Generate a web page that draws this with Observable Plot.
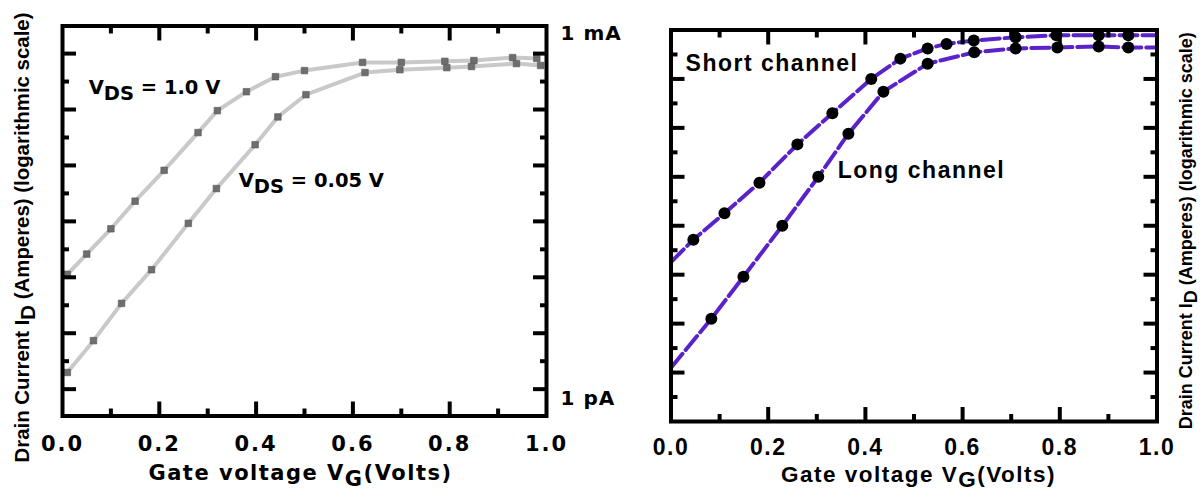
<!DOCTYPE html>
<html><head><meta charset="utf-8">
<script src="https://cdn.jsdelivr.net/npm/d3@7"></script>
<script src="https://cdn.jsdelivr.net/npm/@observablehq/plot@0.6"></script>
<style>
body{margin:0;background:#fff;}
#wrap{position:relative;width:1202px;height:492px;overflow:hidden;background:#fff;}
#p1,#p2{position:absolute;top:0;width:601px;height:492px;}
#p1{left:0;} #p2{left:601px;}
svg{overflow:visible;}
</style></head><body>
<div id="wrap"><div id="p1"></div><div id="p2"></div></div>
<script>
// ---------- Left panel data (V_G in volts, I_D in amperes) ----------
const vdsHighVg = [0.01, 0.05, 0.10, 0.15, 0.21, 0.28, 0.32, 0.38, 0.44, 0.50, 0.62, 0.70, 0.79, 0.85, 0.93, 0.98];
const vdsHighId = [1.2e-9, 4.2e-9, 2.0e-8, 1.1e-7, 7.4e-7, 7.6e-6, 2.95e-5, 9.5e-5, 2.4e-4, 3.5e-4, 5.8e-4, 5.8e-4, 6.2e-4, 6.5e-4, 7.8e-4, 7.4e-4];
const vdsLowVg = [0.01, 0.064, 0.122, 0.184, 0.26, 0.318, 0.398, 0.445, 0.503, 0.625, 0.697, 0.794, 0.845, 0.938, 0.988];
const vdsLowId = [2.8e-12, 2.0e-11, 2.0e-10, 1.6e-9, 2.8e-8, 2.4e-7, 3.6e-6, 2.0e-5, 7.9e-5, 3.1e-4, 3.7e-4, 4.2e-4, 4.5e-4, 5.4e-4, 4.8e-4];

// ---------- Right panel data ----------
const shortVg = [0, 0.046, 0.110, 0.182, 0.260, 0.332, 0.412, 0.472, 0.528, 0.567, 0.623, 0.709, 0.793, 0.880, 0.941, 1.0];
const shortId = [1.8e-8, 5.2e-8, 1.8e-7, 7.6e-7, 4.6e-6, 2.0e-5, 1.0e-4, 2.6e-4, 4.2e-4, 5.2e-4, 6.1e-4, 7.1e-4, 7.8e-4, 7.8e-4, 7.8e-4, 7.8e-4];
const longVg = [0, 0.083, 0.149, 0.229, 0.303, 0.365, 0.437, 0.528, 0.624, 0.709, 0.795, 0.880, 0.941, 1.0];
const longId = [1.26e-10, 1.26e-9, 9.1e-9, 1.0e-7, 1.0e-6, 7.6e-6, 5.5e-5, 2.05e-4, 3.5e-4, 4.2e-4, 4.4e-4, 4.6e-4, 4.4e-4, 4.4e-4];

// ---------- Ticks and labels ----------
const xLabels = [0, 0.2, 0.4, 0.6, 0.8, 1.0];
const xMajor = [0.2, 0.4, 0.6, 0.8];
const xMinor = [0.1, 0.3, 0.5, 0.7, 0.9];
const leftMajorExp = [-3, -4.5, -6, -7.5, -9, -10.5, -12];
const leftMinorExp = [-3.75, -5.25, -6.75, -8.25, -9.75, -11.25];
const rightMajorExp = [-4, -5, -6, -7, -8, -9, -10];
const rightMinorExp = [-3.5, -4.5, -5.5, -6.5, -7.5, -8.5, -9.5, -10.5];
const yTitle = "Drain Current I{D} (Amperes) (logarithmic scale)";
const xTitle = "Gate voltage V{G}(Volts)";
const leftLabels = [
  {text: "V{DS} = 1.0 V", vg: 0.054, id: 1.23e-4},
  {text: "V{DS} = 0.05 V", vg: 0.364, id: 4.0e-7}
];
const topUnit = {text: "1 mA", id: 1e-3};
const bottomUnit = {text: "1 pA", id: 1e-12};
const rightLabels = [
  {text: "Short channel", vg: 0.030, id: 2.05e-4},
  {text: "Long channel", vg: 0.343, id: 1.35e-6}
];

const zip = (xs, ys) => xs.map((v, i) => ({vg: v, id: ys[i]}));
const high = zip(vdsHighVg, vdsHighId);
const low = zip(vdsLowVg, vdsLowId);
const shortC = zip(shortVg, shortId);
const longC = zip(longVg, longId);
const pow = e => Math.pow(10, e);

function tickAxes(major, minor) {
  const common = {fill: "none", stroke: "black", strokeWidth: 4, label: null};
  return [
    Plot.axisX({...common, anchor: "bottom", ticks: xMajor, tickSize: -14}),
    Plot.axisX({...common, anchor: "bottom", ticks: xMinor, tickSize: -7}),
    Plot.axisX({...common, anchor: "top", ticks: xMajor, tickSize: -14}),
    Plot.axisX({...common, anchor: "top", ticks: xMinor, tickSize: -7}),
    Plot.axisY({...common, anchor: "left", ticks: major.map(pow), tickSize: -14}),
    Plot.axisY({...common, anchor: "left", ticks: minor.map(pow), tickSize: -7}),
    Plot.axisY({...common, anchor: "right", ticks: major.map(pow), tickSize: -14}),
    Plot.axisY({...common, anchor: "right", ticks: minor.map(pow), tickSize: -7})
  ];
}

function subscripts(svg, shift) {
  svg.querySelectorAll("text").forEach(t => {
    const s = t.textContent;
    if (!s.includes("{")) return;
    t.textContent = "";
    const parts = s.split(/(\{[^}]*\})/).filter(p => p);
    let down = false;
    for (const p of parts) {
      const ts = document.createElementNS("http://www.w3.org/2000/svg", "tspan");
      if (p.startsWith("{")) { ts.textContent = p.slice(1, -1); ts.setAttribute("dy", shift); down = true; }
      else { ts.textContent = p; if (down) { ts.setAttribute("dy", -shift); down = false; } }
      t.appendChild(ts);
    }
  });
}
function spacing(svg, test, px) {
  svg.querySelectorAll("text").forEach(t => { if (test(t.textContent)) t.style.letterSpacing = px; });
}

// ---------- Left panel ----------
const p1 = Plot.plot({
  width: 601, height: 492,
  marginLeft: 62, marginRight: 55, marginTop: 25.5, marginBottom: 76.5,
  x: {domain: [0, 1]},
  y: {type: "log", domain: [pow(-12.72), pow(-2.26)]},
  style: {fontFamily: "'DejaVu Sans', sans-serif", fontWeight: "bold", color: "black", background: "transparent", overflow: "visible"},
  marks: [
    Plot.line(high, {x: "vg", y: "id", stroke: "#c9c9c9", strokeWidth: 4}),
    Plot.line(low, {x: "vg", y: "id", stroke: "#c9c9c9", strokeWidth: 4}),
    Plot.dot(high, {x: "vg", y: "id", symbol: "square", r: 3.7, fill: "#6e6e6e", stroke: "#585858", strokeWidth: 0.6}),
    Plot.dot(low, {x: "vg", y: "id", symbol: "square", r: 3.7, fill: "#6e6e6e", stroke: "#585858", strokeWidth: 0.6}),
    ...tickAxes(leftMajorExp, leftMinorExp),
    Plot.frame({stroke: "black", strokeWidth: 4}),
    Plot.text(xLabels, {x: d => d, text: d => d.toFixed(1), frameAnchor: "bottom", lineAnchor: "middle", textAnchor: "middle", dy: 28, fontSize: 21, fill: "black"}),
    Plot.text(leftLabels, {x: "vg", y: "id", text: "text", textAnchor: "start", lineAnchor: "middle", fontSize: 19.5, fill: "black"}),
    Plot.text([topUnit], {x: () => 1, y: "id", text: "text", dx: 14, dy: -20, textAnchor: "start", lineAnchor: "middle", fontSize: 20, fill: "black"}),
    Plot.text([bottomUnit], {x: () => 1, y: "id", text: "text", dx: 14, dy: 9, textAnchor: "start", lineAnchor: "middle", fontSize: 20, fill: "black"}),
    Plot.text([xTitle], {frameAnchor: "bottom", textAnchor: "middle", lineAnchor: "middle", dx: -4, dy: 57.5, fontSize: 21, fill: "black"}),
    Plot.text([yTitle], {frameAnchor: "left", textAnchor: "middle", lineAnchor: "middle", rotate: -90, dx: -40, dy: 16.5, fontSize: 20.4, fontFamily: "'Liberation Sans', Arial, sans-serif", fill: "black"})
  ]
});
spacing(p1, s => /^\d\.\d$/.test(s), "2px");
spacing(p1, s => s.startsWith("Gate"), "1.5px");
spacing(p1, s => /^1 [mp]A$/.test(s), "1px");
subscripts(p1, 6);
document.getElementById("p1").appendChild(p1);

// ---------- Right panel ----------
const p2 = Plot.plot({
  width: 601, height: 492,
  marginLeft: 69.5, marginRight: 45.5, marginTop: 29.5, marginBottom: 71,
  x: {domain: [0, 1]},
  y: {type: "log", domain: [pow(-11), pow(-3)]},
  style: {fontFamily: "'Liberation Sans', Arial, sans-serif", fontWeight: "bold", color: "black", background: "transparent", overflow: "visible", letterSpacing: "1.5px"},
  marks: [
    Plot.line(shortC, {x: "vg", y: "id", stroke: "#5a22c9", strokeWidth: 4, strokeDasharray: "18,5"}),
    Plot.line(longC, {x: "vg", y: "id", stroke: "#5a22c9", strokeWidth: 4, strokeDasharray: "18,5"}),
    Plot.dot(shortC, {filter: d => d.vg > 0 && d.vg < 1, x: "vg", y: "id", r: 6, fill: "black"}),
    Plot.dot(longC, {filter: d => d.vg > 0 && d.vg < 1, x: "vg", y: "id", r: 6, fill: "black"}),
    ...tickAxes(rightMajorExp, rightMinorExp),
    Plot.frame({stroke: "black", strokeWidth: 4}),
    Plot.text(xLabels, {x: d => d, text: d => d.toFixed(1), frameAnchor: "bottom", lineAnchor: "middle", textAnchor: "middle", dy: 26, fontSize: 23, fill: "black"}),
    Plot.text(rightLabels, {x: "vg", y: "id", text: "text", textAnchor: "start", lineAnchor: "middle", fontSize: 23, fill: "black"}),
    Plot.text([xTitle], {frameAnchor: "bottom", textAnchor: "middle", lineAnchor: "middle", dx: 4.5, dy: 53, fontSize: 22.5, fill: "black"}),
    Plot.text([yTitle], {frameAnchor: "right", textAnchor: "middle", lineAnchor: "middle", rotate: -90, dx: 29, dy: 5, fontSize: 18, fill: "black"})
  ]
});
spacing(p2, s => s.startsWith("Drain"), "0px");
subscripts(p2, 5);
document.getElementById("p2").appendChild(p2);
</script>
</body></html>
